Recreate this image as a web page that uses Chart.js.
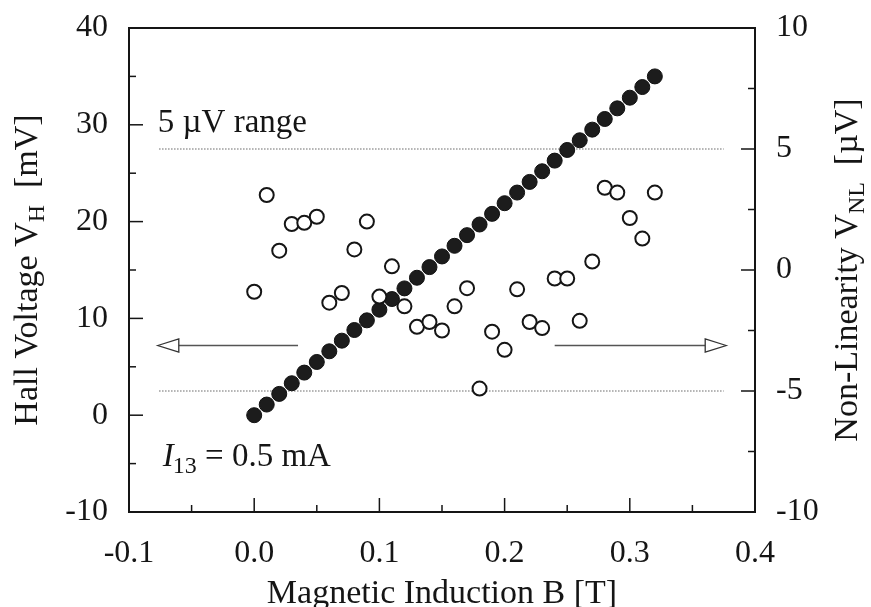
<!DOCTYPE html>
<html>
<head>
<meta charset="utf-8">
<title>Hall voltage and non-linearity</title>
<script src="https://cdn.jsdelivr.net/npm/chart.js@4.4.1/dist/chart.umd.min.js"></script>
<style>
  html, body { margin: 0; padding: 0; background: #fff; }
  canvas { display: block; }
</style>
</head>
<body>
<canvas id="chart-hall" width="871" height="607"></canvas>
<script>
// ── Measurement data ───────────────────────────────────────────
// magnetic induction B [T]
const fieldB = [
  0.00, 0.01, 0.02, 0.03, 0.04, 0.05, 0.06, 0.07, 0.08, 0.09, 0.10,
  0.11, 0.12, 0.13, 0.14, 0.15, 0.16, 0.17, 0.18, 0.19, 0.20, 0.21,
  0.22, 0.23, 0.24, 0.25, 0.26, 0.27, 0.28, 0.29, 0.30, 0.31, 0.32,
];
// Hall voltage V_H [mV] (left axis)
const hallVoltage = [
  0.0, 1.1, 2.2, 3.3, 4.4, 5.5, 6.6, 7.7, 8.8, 9.8, 10.9,
  12.0, 13.1, 14.2, 15.3, 16.4, 17.5, 18.6, 19.7, 20.8, 21.9, 23.0,
  24.1, 25.2, 26.3, 27.4, 28.4, 29.5, 30.6, 31.7, 32.8, 33.9, 35.0,
];
// non-linearity V_NL [µV] (right axis)
const nonLinearity = [
  -0.9, 3.1, 0.8, 1.9, 1.95, 2.2, -1.35, -0.95, 0.85, 2.0, -1.1,
  0.15, -1.5, -2.35, -2.15, -2.5, -1.5, -0.75, -4.9, -2.55, -3.3, -0.8,
  -2.15, -2.4, -0.35, -0.35, -2.1, 0.35, 3.4, 3.2, 2.15, 1.3, 3.2,
];

// ±5 µV band
const rangeLimits = [5, -5];
const rangeSpanB  = [-0.076, 0.375];

// ── Axes ───────────────────────────────────────────────────────
const xTicks     = [-0.1, 0.0, 0.1, 0.2, 0.3, 0.4];
const xMinor     = [-0.05, 0.05, 0.15, 0.25, 0.35];
const leftTicks  = [-10, 0, 10, 20, 30, 40];
const leftMinor  = [-5, 5, 15, 25, 35];
const rightTicks = [-10, -5, 0, 5, 10];
const rightMinor = [-7.5, -2.5, 2.5, 7.5];

// arrows pointing at the axis each series belongs to (B from → to, V_H level)
const leftArrow  = { from: 0.035, to: -0.077, y: 7.2 };
const rightArrow = { from: 0.240, to: 0.377, y: 7.2 };

const SERIF = "'Liberation Serif', 'Times New Roman', serif";
const INK   = '#151515';

const fontStr = (p) => `${p.italic ? 'italic ' : ''}${p.size}px ${SERIF}`;

// draw a run of text pieces (for subscripts) starting at x, or centred on x
function drawRun(ctx, parts, x, y, align) {
  let w = 0;
  for (const p of parts) { ctx.font = fontStr(p); w += ctx.measureText(p.text).width; }
  let cx = align === 'center' ? x - w / 2 : x;
  for (const p of parts) {
    ctx.font = fontStr(p);
    ctx.fillText(p.text, cx, y + (p.dy || 0));
    cx += ctx.measureText(p.text).width + (p.gap || 0);
  }
}

function drawArrow(ctx, x0, x1, y) {
  const dir = Math.sign(x1 - x0);
  const base = x1 - dir * 21;
  ctx.strokeStyle = '#555';
  ctx.lineWidth = 1.3;
  ctx.beginPath(); ctx.moveTo(x0, y); ctx.lineTo(base, y); ctx.stroke();
  ctx.strokeStyle = '#333';
  ctx.beginPath();
  ctx.moveTo(x1, y);
  ctx.lineTo(base, y - 6.5);
  ctx.lineTo(base, y + 6.5);
  ctx.closePath();
  ctx.stroke();
}

// ── Frame, inward ticks, titles and notes ──────────────────────
const decorations = {
  id: 'decorations',
  afterDraw(chart) {
    const { ctx, chartArea: a, scales } = chart;
    const { x, y, y2 } = scales;
    ctx.save();

    // inward tick marks
    ctx.strokeStyle = INK;
    ctx.lineWidth = 1.5;
    const tick = (x0, y0, x1, y1) => { ctx.beginPath(); ctx.moveTo(x0, y0); ctx.lineTo(x1, y1); ctx.stroke(); };
    xTicks.forEach(v => { const px = x.getPixelForValue(v); tick(px, a.bottom, px, a.bottom - 14); });
    xMinor.forEach(v => { const px = x.getPixelForValue(v); tick(px, a.bottom, px, a.bottom - 7); });
    leftTicks.forEach(v => { const py = y.getPixelForValue(v); tick(a.left, py, a.left + 14, py); });
    leftMinor.forEach(v => { const py = y.getPixelForValue(v); tick(a.left, py, a.left + 7, py); });
    rightTicks.forEach(v => { const py = y2.getPixelForValue(v); tick(a.right, py, a.right - 14, py); });
    rightMinor.forEach(v => { const py = y2.getPixelForValue(v); tick(a.right, py, a.right - 7, py); });

    // plot frame
    ctx.lineWidth = 2;
    ctx.strokeRect(a.left, a.top, a.right - a.left, a.bottom - a.top);

    // arrows
    drawArrow(ctx, x.getPixelForValue(leftArrow.from), x.getPixelForValue(leftArrow.to), y.getPixelForValue(leftArrow.y));
    drawArrow(ctx, x.getPixelForValue(rightArrow.from), x.getPixelForValue(rightArrow.to), y.getPixelForValue(rightArrow.y));

    ctx.fillStyle = INK;
    ctx.textBaseline = 'alphabetic';
    ctx.textAlign = 'left';

    // notes inside the plot
    drawRun(ctx, [{ text: '5 \u00b5V range', size: 33 }],
      x.getPixelForValue(-0.077), y2.getPixelForValue(5.7), 'left');
    drawRun(ctx, [
      { text: 'I', size: 33, italic: true, gap: -1 },
      { text: '13', size: 24, dy: 7 },
      { text: ' = 0.5 mA', size: 33 },
    ], x.getPixelForValue(-0.073), y2.getPixelForValue(-8.1), 'left');

    // x axis title
    drawRun(ctx, [{ text: 'Magnetic Induction B [T]', size: 34 }], (a.left + a.right) / 2, 603, 'center');

    // left axis title
    const midY = (a.top + a.bottom) / 2;
    ctx.save();
    ctx.translate(37, midY);
    ctx.rotate(-Math.PI / 2);
    drawRun(ctx, [
      { text: 'Hall Voltage V', size: 34 },
      { text: 'H', size: 24, dy: 7 },
      { text: '  [mV]', size: 34 },
    ], 0, 0, 'center');
    ctx.restore();

    // right axis title
    ctx.save();
    ctx.translate(857, midY);
    ctx.rotate(-Math.PI / 2);
    drawRun(ctx, [
      { text: 'Non-Linearity V', size: 34 },
      { text: 'NL', size: 24, dy: 7 },
      { text: '  [\u00b5V]', size: 34 },
    ], 0, 0, 'center');
    ctx.restore();

    ctx.restore();
  },
};

const tickFont = { family: SERIF, size: 32 };
const setTicks = (values) => (scale) => { scale.ticks = values.map(v => ({ value: v })); };
// fixed axis boxes; edge labels may overhang the plot frame
const fitY = (w) => (s) => { s.width = w; s.paddingTop = 0; s.paddingBottom = 0; };
const fitX = (h) => (s) => { s.height = h; s.paddingLeft = 0; s.paddingRight = 0; };

new Chart(document.getElementById('chart-hall'), {
  type: 'scatter',
  data: {
    datasets: [
      {
        label: 'Non-linearity',
        yAxisID: 'y2',
        data: fieldB.map((b, i) => ({ x: b, y: nonLinearity[i] })),
        pointRadius: 7,
        pointBorderWidth: 2,
        pointBackgroundColor: '#fff',
        pointBorderColor: INK,
        order: 0,
      },
      {
        label: 'Hall voltage',
        yAxisID: 'y',
        data: fieldB.map((b, i) => ({ x: b, y: hallVoltage[i] })),
        pointRadius: 7.5,
        pointBorderWidth: 1,
        pointBackgroundColor: '#1c1c1c',
        pointBorderColor: '#111',
        order: 1,
      },
      ...rangeLimits.map(lim => ({
        label: `${lim} uV`,
        yAxisID: 'y2',
        data: rangeSpanB.map(b => ({ x: b, y: lim })),
        showLine: true,
        borderColor: '#9a9a9a',
        borderWidth: 1.5,
        borderDash: [1.5, 1.5],
        pointRadius: 0,
        order: 2,
      })),
    ],
  },
  options: {
    responsive: false,
    animation: false,
    layout: { padding: { top: 28, left: 0, right: 0, bottom: 0 } },
    plugins: { legend: { display: false }, tooltip: { enabled: false } },
    scales: {
      x: {
        type: 'linear',
        position: 'bottom',
        min: -0.1,
        max: 0.4,
        afterBuildTicks: setTicks(xTicks),
        afterFit: fitX(95),
        grid: { display: false, drawTicks: false },
        border: { display: false },
        ticks: { font: tickFont, color: INK, padding: 22, maxRotation: 0, callback: v => v.toFixed(1) },
      },
      y: {
        position: 'left',
        min: -10,
        max: 40,
        afterBuildTicks: setTicks(leftTicks),
        afterFit: fitY(129),
        grid: { display: false, drawTicks: false },
        border: { display: false },
        ticks: { font: tickFont, color: INK, padding: 21, callback: v => String(v) },
      },
      y2: {
        position: 'right',
        min: -10,
        max: 10,
        afterBuildTicks: setTicks(rightTicks),
        afterFit: fitY(116),
        grid: { display: false, drawTicks: false },
        border: { display: false },
        ticks: { font: tickFont, color: INK, padding: 21, callback: v => String(v) },
      },
    },
  },
  plugins: [decorations],
});
</script>
</body>
</html>
